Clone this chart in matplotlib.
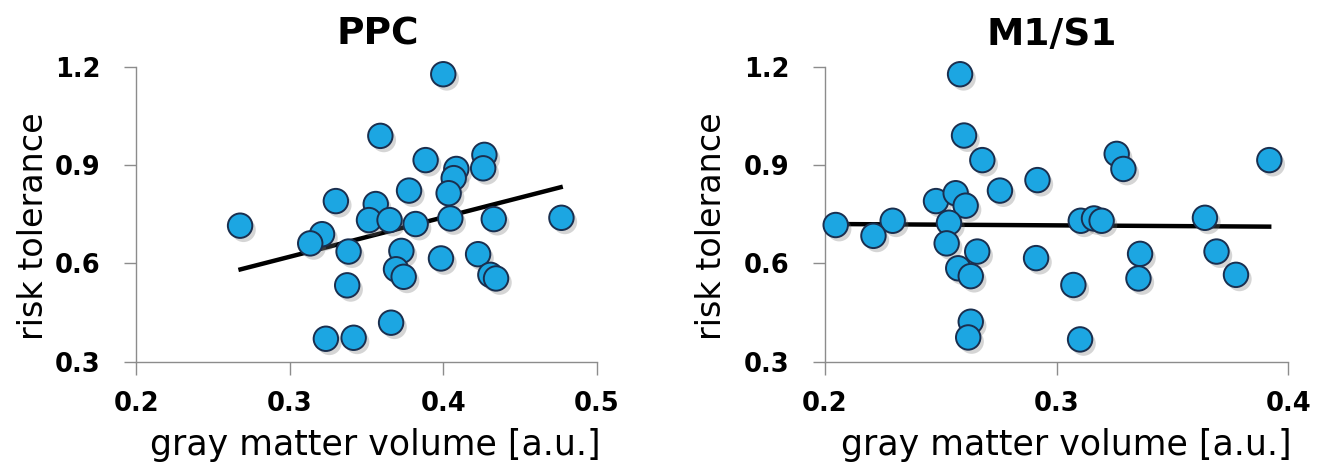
"""Gray matter volume vs. risk tolerance scatter plots (PPC and M1/S1)."""

from __future__ import annotations

import matplotlib

matplotlib.use("Agg")

import matplotlib.patheffects as pe
import matplotlib.pyplot as plt
import numpy as np


RISK_TOLERANCE_PPC = [
    1.177, 0.989, 0.915, 0.931, 0.890, 0.888, 0.860, 0.814, 0.822, 0.790, 0.781,
    0.732, 0.732, 0.720, 0.737, 0.735, 0.739, 0.715, 0.689, 0.661, 0.636, 0.638,
    0.582, 0.559, 0.615, 0.628, 0.565, 0.554, 0.533, 0.419, 0.370, 0.373,
]
GMV_PPC = [
    0.400, 0.359, 0.3885, 0.4268, 0.426, 0.4085, 0.4068, 0.4035, 0.3777, 0.330, 0.356,
    0.3516, 0.365, 0.382, 0.4046, 0.4329, 0.477, 0.2676, 0.321, 0.3133, 0.3383, 0.3727,
    0.3692, 0.3742, 0.3985, 0.4227, 0.4307, 0.4344, 0.3374, 0.366, 0.3235, 0.3416,
]

RISK_TOLERANCE_M1S1 = [
    1.177, 0.990, 0.915, 0.934, 0.888, 0.915, 0.854, 0.822, 0.790, 0.814, 0.776,
    0.724, 0.717, 0.730, 0.684, 0.661, 0.636, 0.585, 0.561, 0.616, 0.534, 0.422,
    0.374, 0.368, 0.730, 0.737, 0.730, 0.629, 0.554, 0.739, 0.636, 0.565,
]
GMV_M1S1 = [
    0.2583, 0.2600, 0.2679, 0.3259, 0.3288, 0.3918, 0.2917, 0.2755, 0.2479, 0.2564, 0.2607,
    0.2535, 0.2046, 0.2292, 0.2209, 0.2525, 0.2657, 0.2575, 0.2629, 0.2911, 0.3072, 0.2629,
    0.2618, 0.3101, 0.3104, 0.3161, 0.3194, 0.3360, 0.3353, 0.3640, 0.3690, 0.3774,
]

# linear trend lines as shown in the figure (start / end values)
TREND_PPC_X = [0.2665, 0.4779]
TREND_PPC_Y = [0.580, 0.834]
TREND_M1S1_X = [0.2046, 0.3927]
TREND_M1S1_Y = [0.720, 0.712]

PANELS = ["PPC", "M1/S1"]
X_TICKS_PPC = [0.2, 0.3, 0.4, 0.5]
X_TICKS_M1S1 = [0.2, 0.3, 0.4]
Y_TICKS = [0.3, 0.6, 0.9, 1.2]

MARKER_FACE = "#1ca6e2"
MARKER_EDGE = "#1a2f4f"
SPINE_COLOR = "#8c8c8c"
FONT = "DejaVu Sans"


def shadow():
    return [
        pe.SimplePatchShadow(offset=(2.5, -3), shadow_rgbFace="#777777", alpha=0.3),
        pe.Normal(),
    ]


def plot_panel(ax, x, y, trend_x, trend_y, title, xticks, title_x, ylabel_x):
    ax.plot(trend_x, trend_y, color="black", lw=3.2, zorder=2,
            solid_capstyle="butt", path_effects=shadow())

    ax.scatter(x, y, s=310, c=MARKER_FACE, edgecolors=MARKER_EDGE, linewidths=1.4,
               zorder=3, clip_on=False, path_effects=shadow())

    ax.set_xlim(xticks[0], xticks[-1])
    ax.set_ylim(0.3, 1.2)
    ax.set_xticks(xticks)
    ax.set_yticks(Y_TICKS)
    ax.set_xticklabels([f"{t:.1f}" for t in xticks], fontsize=18.5, fontweight="bold")
    ax.set_yticklabels([f"{t:.1f}" for t in Y_TICKS], fontsize=18.5, fontweight="bold")

    for side in ("top", "right"):
        ax.spines[side].set_visible(False)
    for side in ("left", "bottom"):
        ax.spines[side].set_color(SPINE_COLOR)
        ax.spines[side].set_linewidth(1.0)

    ax.tick_params(axis="x", direction="out", length=9.4, width=1.0, color=SPINE_COLOR, pad=12)
    ax.tick_params(axis="y", direction="out", length=8.6, width=1.0, color=SPINE_COLOR, pad=17)

    ax.set_xlabel("gray matter volume [a.u.]", fontsize=25)
    ax.set_ylabel("risk tolerance", fontsize=24)
    ax.xaxis.set_label_coords(0.52, -0.225)
    ax.yaxis.set_label_coords(ylabel_x, 0.458)

    ax.text(title_x, 1.0736, title, transform=ax.transAxes, ha="center", va="baseline",
            fontsize=27, fontweight="bold")


def main() -> None:
    plt.rcParams["font.family"] = [FONT]

    fig = plt.figure(figsize=(13.29, 4.73), dpi=100)
    ax_ppc = fig.add_axes([0.1026, 0.2353, 0.3464, 0.6237])
    ax_m1 = fig.add_axes([0.6208, 0.2353, 0.3486, 0.6237])

    plot_panel(ax_ppc, GMV_PPC, RISK_TOLERANCE_PPC, TREND_PPC_X, TREND_PPC_Y,
               PANELS[0], X_TICKS_PPC, 0.524, -0.187)
    plot_panel(ax_m1, GMV_M1S1, RISK_TOLERANCE_M1S1, TREND_M1S1_X, TREND_M1S1_Y,
               PANELS[1], X_TICKS_M1S1, 0.49, -0.209)

    fig.savefig("out.png", dpi=100, facecolor="white")


if __name__ == "__main__":
    main()
